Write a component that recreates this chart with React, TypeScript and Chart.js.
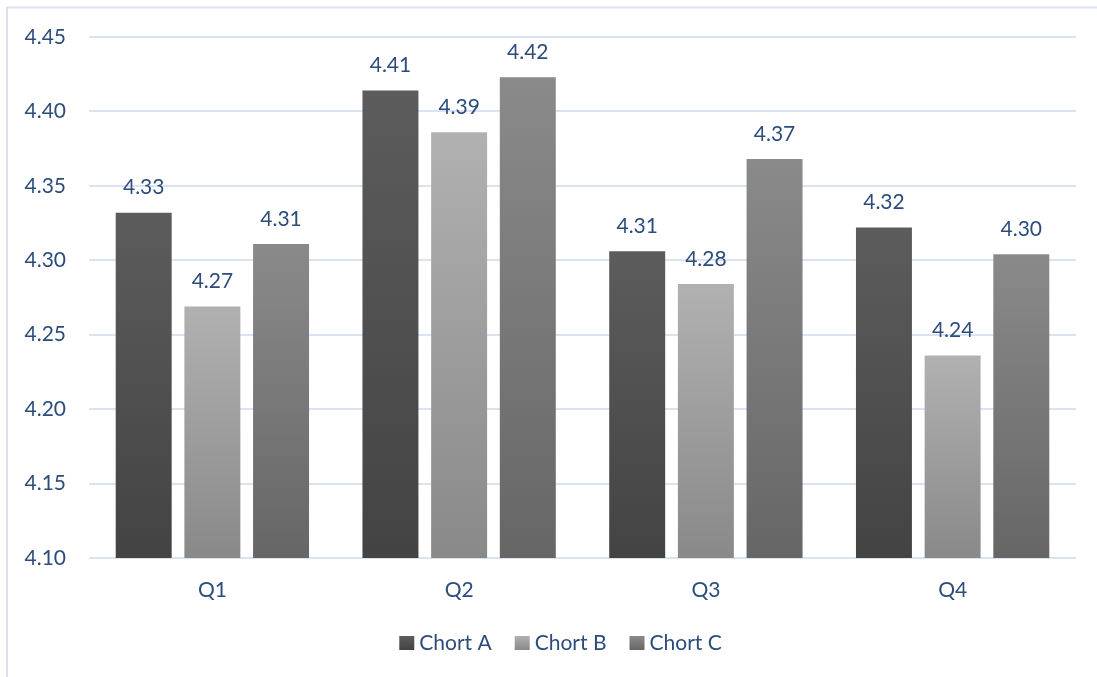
import React, { useEffect, useRef } from 'react';
import { Chart, registerables } from 'chart.js';

Chart.register(...registerables);

// ---- data ----
const categories = ['Q1', 'Q2', 'Q3', 'Q4'];
const seriesNames = ['Chort A', 'Chort B', 'Chort C'];
const chortA = [4.332, 4.414, 4.306, 4.322];
const chortB = [4.269, 4.386, 4.284, 4.236];
const chortC = [4.311, 4.423, 4.368, 4.304];
const yMin = 4.1;
const yMax = 4.45;
const yStep = 0.05;

// ---- styles ----
const gradTop = ['#5c5c5c', '#b1b1b1', '#8a8a8a'];
const gradBottom = ['#434343', '#898989', '#666666'];
const textColor = '#2c4c7c';
const gridColor = '#d9e3f1';
const FONT = 'Lato';

function barGradient(i: number) {
  return (ctx: any) => {
    const chart = ctx.chart;
    const y = chart.scales && chart.scales.y;
    if (!y || ctx.type !== 'data' || !chart.chartArea) return gradBottom[i];
    const yTop = y.getPixelForValue(ctx.raw);
    const yBot = y.getPixelForValue(yMin);
    if (!isFinite(yTop) || !isFinite(yBot) || yTop === yBot) return gradBottom[i];
    const g = chart.ctx.createLinearGradient(0, yTop, 0, yBot);
    g.addColorStop(0, gradTop[i]);
    g.addColorStop(1, gradBottom[i]);
    return g;
  };
}

const valueLabels = {
  id: 'valueLabels',
  afterDatasetsDraw(chart: any) {
    const ctx = chart.ctx;
    ctx.save();
    ctx.font = `21px ${FONT}`;
    ctx.fillStyle = textColor;
    ctx.textAlign = 'center';
    ctx.textBaseline = 'middle';
    chart.data.datasets.forEach((ds: any, i: number) => {
      const meta = chart.getDatasetMeta(i);
      meta.data.forEach((el: any, j: number) => {
        ctx.fillText(Number(ds.data[j]).toFixed(2), el.x, el.y - 25);
      });
    });
    ctx.restore();
  },
};

const frameAndLegend = {
  id: 'frameAndLegend',
  beforeDraw(chart: any) {
    const ctx = chart.ctx;
    ctx.save();
    ctx.strokeStyle = '#d9e2ee';
    ctx.lineWidth = 2;
    ctx.strokeRect(7, 7.5, 1200, 1200);
    ctx.restore();
  },
  afterDraw(chart: any) {
    const ctx = chart.ctx;
    ctx.save();
    ctx.font = `21px ${FONT}`;
    const box = 15;
    const gap = 5;
    const spacing = 23;
    const widths = seriesNames.map((n) => ctx.measureText(n).width);
    const total = widths.reduce((a, w) => a + box + gap + w, 0) + spacing * (seriesNames.length - 1);
    let x = 560.5 - total / 2;
    const cy = 643;
    seriesNames.forEach((name, i) => {
      const g = ctx.createLinearGradient(0, cy - 7, 0, cy + 7);
      g.addColorStop(0, gradTop[i]);
      g.addColorStop(1, gradBottom[i]);
      ctx.fillStyle = g;
      ctx.fillRect(x, cy - 7, box, 14);
      x += box + gap;
      ctx.fillStyle = textColor;
      ctx.textAlign = 'left';
      ctx.textBaseline = 'middle';
      ctx.fillText(name, x, cy);
      x += widths[i] + spacing;
    });
    ctx.restore();
  },
};

export default function App() {
  const ref = useRef<HTMLCanvasElement>(null);
  useEffect(() => {
    document.body.style.margin = '0';
    const canvas = ref.current;
    if (!canvas) return;
    const seriesData = [chortA, chortB, chortC];
    const chart = new Chart(canvas, {
      type: 'bar',
      data: {
        labels: categories,
        datasets: seriesNames.map((name, i) => ({
          label: name,
          data: seriesData[i],
          backgroundColor: barGradient(i),
          borderWidth: 0,
          categoryPercentage: 0.835,
          barPercentage: 0.815,
        })),
      },
      options: {
        responsive: false,
        animation: false,
        events: [],
        layout: { padding: { top: 37, left: 7, right: 21, bottom: 0 } },
        plugins: {
          legend: { display: false },
          tooltip: { enabled: false },
        },
        scales: {
          x: {
            grid: { display: false, drawTicks: false },
            border: { display: false },
            ticks: { color: textColor, font: { family: FONT, size: 21 }, padding: 20 },
            afterFit: (s: any) => {
              s.height = 119;
            },
          },
          y: {
            min: yMin,
            max: yMax,
            grid: { color: gridColor, lineWidth: 2, drawTicks: false },
            border: { display: false },
            ticks: {
              stepSize: yStep,
              color: textColor,
              font: { family: FONT, size: 21 },
              padding: 23,
              callback: (v: any) => Number(v).toFixed(2),
            },
            afterFit: (s: any) => {
              s.width = 82;
            },
          },
        },
      },
      plugins: [valueLabels, frameAndLegend],
    });
    return () => chart.destroy();
  }, []);
  return (
    <div style={{ width: 1097, height: 677 }}>
      <canvas ref={ref} width={1097} height={677} style={{ display: 'block' }} />
    </div>
  );
}
